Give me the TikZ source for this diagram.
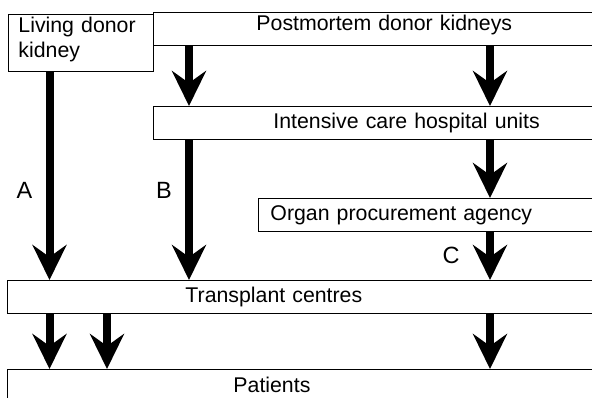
\documentclass[tikz,border=0pt]{standalone}
\usepackage{fontspec}
\setmainfont{Liberation Sans}
\usetikzlibrary{arrows.meta}

\begin{document}
\begin{tikzpicture}[x=1pt,y=-1pt]
        \tikzset{>={Stealth[length=35pt,width=34pt,inset=12pt]}}
        \tikzstyle{box}=[draw=black,line width=0.9pt,anchor=north west,minimum height=33pt,inner ysep=0pt,align=left,text height=15.5pt,text depth=4.5pt,font=\fontsize{21.3}{25}\selectfont]
        \tikzstyle{flow}=[->,line width=8pt]
        \tikzstyle{lbl}=[font=\fontsize{23.5}{28}\selectfont,inner sep=0pt]

        \useasboundingbox (0,0) rectangle (592,397);

        \node[box,minimum width=145pt,minimum height=57pt,inner xsep=10pt,text width=125pt,text depth=36.5pt] (living) at (8,14) {Living donor\\kidney};
        \node[box,inner xsep=103pt,text width=360pt,text depth=12.5pt] (post) at (153,12) {Postmortem donor kidneys};
        \node[box,inner xsep=120pt,text width=300pt] (icu) at (153,106) {Intensive care hospital units};
        \node[box,inner xsep=12pt,text width=420pt] (opa) at (258,198) {Organ procurement agency};
        \node[box,inner xsep=178pt,text width=300pt] (tc) at (7,280) {Transplant centres};
        \node[box,inner xsep=226pt,text width=250pt,minimum height=35pt] (pat) at (7,369) {Patients};

        \coordinate (xa) at (49.5,0);
        \coordinate (xd) at (107,0);
        \coordinate (xb) at (189,0);
        \coordinate (xc) at (490,0);

        \draw[flow] (living.south -| xa) -- (tc.north -| xa);
        \draw[flow] (post.south -| xb) -- (icu.north -| xb);
        \draw[flow] (post.south -| xc) -- (icu.north -| xc);
        \draw[flow] (icu.south -| xb) -- (tc.north -| xb);
        \draw[flow] (icu.south -| xc) -- (opa.north -| xc);
        \draw[flow] (opa.south -| xc) -- (tc.north -| xc);
        \draw[flow] (tc.south -| xa) -- (pat.north -| xa);
        \draw[flow] (tc.south -| xd) -- (pat.north -| xd);
        \draw[flow] (tc.south -| xc) -- (pat.north -| xc);

        \node[lbl] (la) at (24.5,190.5) {A};
        \node[lbl] (lb) at (164,190.5) {B};
        \node[lbl] (lc) at (451,255) {C};
\end{tikzpicture}
\end{document}
